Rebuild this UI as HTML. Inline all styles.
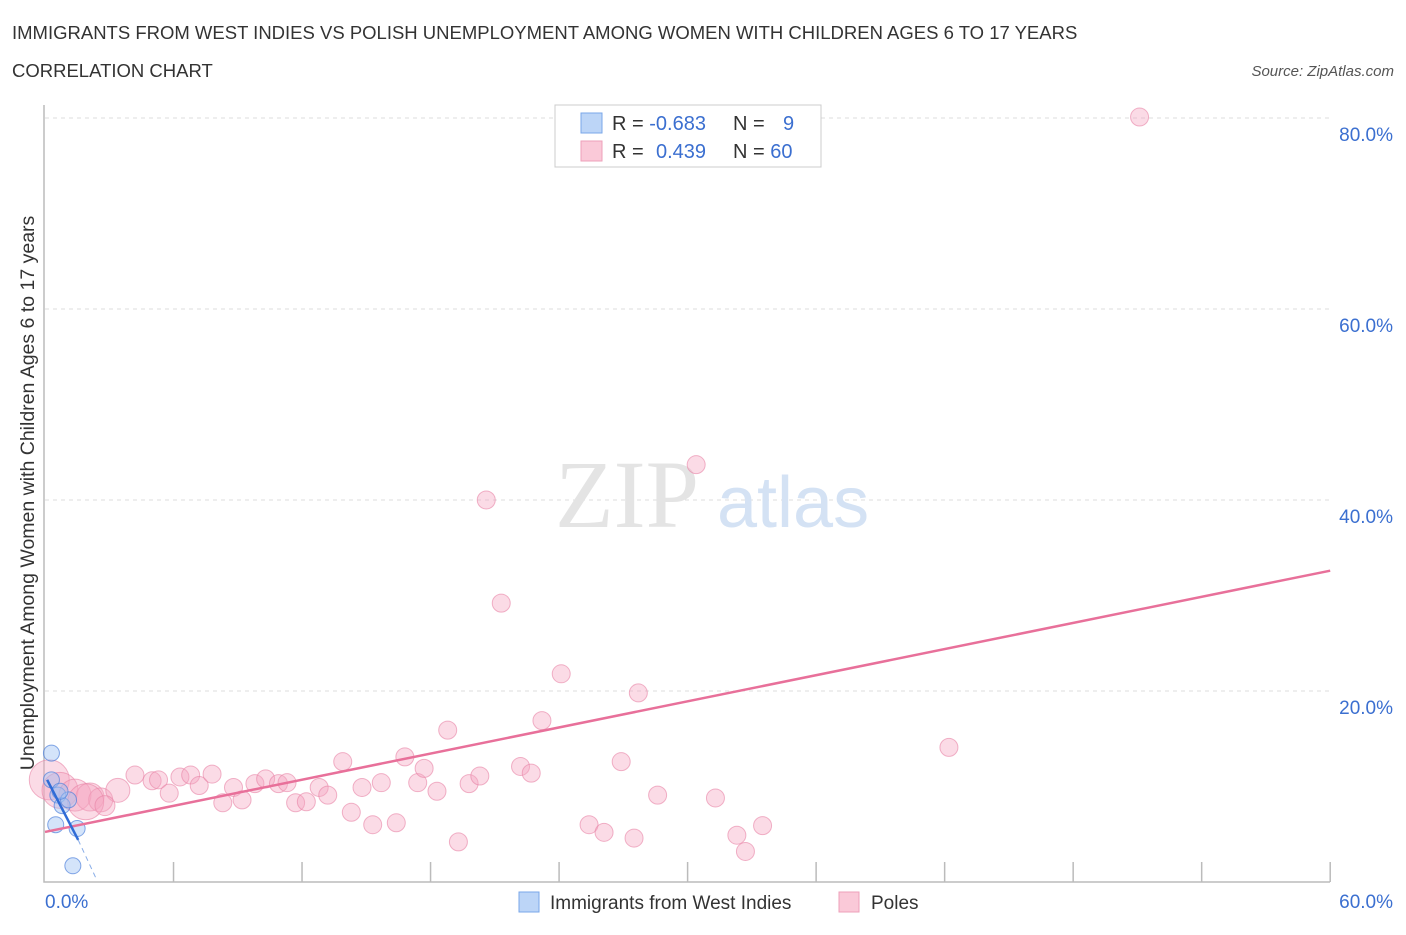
<!DOCTYPE html>
<html><head><meta charset="utf-8"><style>
body{margin:0;background:#fff;font-family:"Liberation Sans",sans-serif;}
</style></head><body>
<svg width="1406" height="930" xmlns="http://www.w3.org/2000/svg" font-family="Liberation Sans, sans-serif">
<text x="12" y="39" font-size="18.5" fill="#333">IMMIGRANTS FROM WEST INDIES VS POLISH UNEMPLOYMENT AMONG WOMEN WITH CHILDREN AGES 6 TO 17 YEARS</text>
<text x="12" y="77" font-size="18.5" fill="#333">CORRELATION CHART</text>
<text x="1394" y="76" font-size="15" fill="#555" font-style="italic" text-anchor="end">Source: ZipAtlas.com</text>
<g id="grid"></g>
<text x="555" y="527" font-size="96" fill="#e4e4e4" font-family="Liberation Serif, serif">ZIP</text>
<text x="717" y="527" font-size="72" fill="#d4e2f4">atlas</text>
<g id="marks"></g>
<text transform="translate(34,493) rotate(-90)" font-size="19.5" fill="#333" text-anchor="middle">Unemployment Among Women with Children Ages 6 to 17 years</text>
<g>
<rect x="555" y="105" width="266" height="62" fill="#fff" stroke="#ccc"/>
<rect x="581" y="113" width="21" height="20" fill="#bcd5f7" stroke="#7aa7e8"/>
<rect x="581" y="141" width="21" height="20" fill="#fac9d8" stroke="#eea0ba"/>
<text x="612" y="130" font-size="20" fill="#333">R = <tspan fill="#3b6fd0">-0.683</tspan></text>
<text x="733" y="130" font-size="20" fill="#333">N = <tspan fill="#3b6fd0" x="783">9</tspan></text>
<text x="612" y="158" font-size="20" fill="#333">R = <tspan fill="#3b6fd0" x="656">0.439</tspan></text>
<text x="733" y="158" font-size="20" fill="#333">N = <tspan fill="#3b6fd0">60</tspan></text>
</g>
<g>
<rect x="519" y="892" width="20" height="20" fill="#bcd5f7" stroke="#7aa7e8"/>
<text x="550" y="909" font-size="19" fill="#333">Immigrants from West Indies</text>
<rect x="839" y="892" width="20" height="20" fill="#fac9d8" stroke="#eea0ba"/>
<text x="871" y="909" font-size="19" fill="#333">Poles</text>
</g>
</svg>
<script>
const xTicks=[0,60];
const yTicks=[20,40,60,80];
const blueX=[0.3,0.3,0.6,0.8,1.1,0.5,1.5,1.3,0.7];
const blueY=[13.5,10.7,9.1,8.0,8.6,6.0,5.6,1.7,9.5];
const pinkX=[0.2,0.7,1.4,2.1,2.6,1.9,3.4,2.8,4.2,5.0,5.3,5.8,6.3,6.8,7.2,7.8,8.3,8.8,9.2,9.8,10.3,10.9,11.3,11.7,12.2,12.8,13.2,13.9,14.3,14.8,15.3,15.7,16.4,16.8,17.4,17.7,18.3,18.8,19.3,19.8,20.3,20.6,21.3,22.2,22.7,23.2,24.1,25.4,26.1,26.9,27.5,27.7,28.6,30.4,31.3,32.3,32.7,33.5,42.2,51.1];
const pinkY=[10.7,9.6,9.1,8.9,8.6,8.4,9.6,8.0,11.2,10.6,10.7,9.3,11.0,11.2,10.1,11.3,8.3,9.9,8.6,10.3,10.8,10.3,10.4,8.3,8.4,9.9,9.1,12.6,7.3,9.9,6.0,10.4,6.2,13.1,10.4,11.9,9.5,15.9,4.2,10.3,11.1,40.0,29.2,12.1,11.4,16.9,21.8,6.0,5.2,12.6,4.6,19.8,9.1,43.7,8.8,4.9,3.2,5.9,14.1,80.1];
const pinkR=[20,18,16,14,12,18,12,10,9,9,9,9,9,9,9,9,9,9,9,9,9,9,9,9,9,9,9,9,9,9,9,9,9,9,9,9,9,9,9,9,9,9,9,9,9,9,9,9,9,9,9,9,9,9,9,9,9,9,9,9];
const pinkTrend=[0,5.24,60,32.6];
const blueTrend=[0.1,10.7,1.55,4.4,2.4,0.3];
const X=v=>45+v*21.42, Y=v=>882-v*9.55;
const NS='http://www.w3.org/2000/svg';
function mk(t,a,p){const e=document.createElementNS(NS,t);for(const k in a)e.setAttribute(k,a[k]);p.appendChild(e);return e;}
const g=document.getElementById('grid'), m=document.getElementById('marks');
yTicks.forEach(v=>{
 const l=mk('line',{x1:45,x2:1330,y1:Y(v),y2:Y(v),stroke:'#ddd','stroke-dasharray':'4,4'},g);
 
 
 const t=mk('text',{x:1393,y:Y(v)+23,'font-size':19,fill:'#3b6fd0','text-anchor':'end'},g);
 t.textContent=v.toFixed(1)+'%';
 
 
});
const ax=mk('path',{d:'M44,105 V882 H1330',fill:'none',stroke:'#bbb','stroke-width':1.5},g);


for(let i=1;i<=10;i++){const x=X(i*6);const tk=mk('line',{x1:x,x2:x,y1:862,y2:882,stroke:'#bbb','stroke-width':1.5},g);
 
 }
xTicks.forEach((v,i)=>{const t=mk('text',{x:i?1393:45,y:908,'font-size':19,fill:'#3b6fd0','text-anchor':i?'end':'start'},g);
 t.textContent=v.toFixed(1)+'%';
 
 });
pinkX.forEach((v,i)=>{const c=mk('circle',{cx:X(v),cy:Y(pinkY[i]),r:pinkR[i],fill:'rgba(246,166,192,0.4)',stroke:'rgba(232,130,165,0.6)'},m);
 
 });
blueX.forEach((v,i)=>{const c=mk('circle',{cx:X(v),cy:Y(blueY[i]),r:8,fill:'rgba(160,196,245,0.45)',stroke:'rgba(80,130,220,0.7)'},m);
 
 });
const pl=mk('line',{x1:X(pinkTrend[0]),y1:Y(pinkTrend[1]),x2:X(pinkTrend[2]),y2:Y(pinkTrend[3]),stroke:'#e8709a','stroke-width':2.5},m);


const bl=mk('line',{x1:X(blueTrend[0]),y1:Y(blueTrend[1]),x2:X(blueTrend[2]),y2:Y(blueTrend[3]),stroke:'#2f6bd6','stroke-width':2.5},m);


const bd=mk('line',{x1:X(blueTrend[2]),y1:Y(blueTrend[3]),x2:X(blueTrend[4]),y2:Y(blueTrend[5]),stroke:'#8aaee8','stroke-width':1,'stroke-dasharray':'5,4'},m);


</script>
</body></html>
